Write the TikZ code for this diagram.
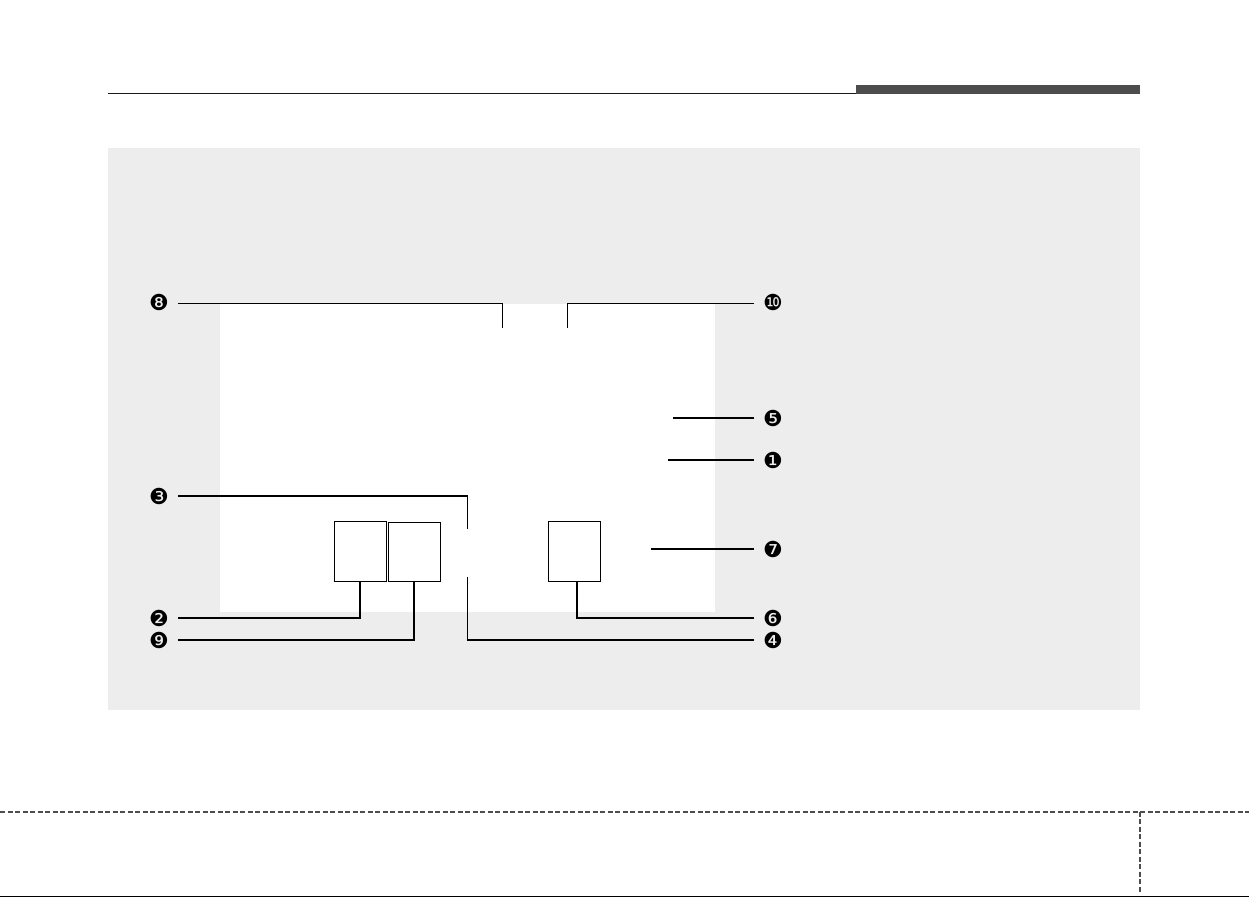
\documentclass[tikz,border=0pt]{standalone}
\usepackage{fontspec}
\newfontfamily\dvfont{DejaVu Sans}
\definecolor{panelgray}{HTML}{EDEDED}
\definecolor{bargray}{HTML}{4D4D4D}
\tikzset{
  num/.style={inner sep=0pt, minimum width=38pt, minimum height=16pt, font=\dvfont\fontsize{22}{22}\selectfont},
  lead/.style={line width=1.2pt, black},
  smallbox/.style={draw=black, line width=1pt, inner sep=0pt, minimum width=52pt, minimum height=60pt},
  cutline/.style={draw=bargray, line width=2pt, dash pattern=on 5pt off 2.5pt}
}
\begin{document}
\begin{tikzpicture}[x=1pt,y=-1pt]
\useasboundingbox (0,0) rectangle (1249,897);
% header
\draw[line width=1.3pt, black!90] (108,93.3) -- (856,93.3);
\fill[bargray] (856,85) rectangle (1140,94);
% panel
\fill[panelgray] (108,148) rectangle (1140,710);
\fill[white] (220,304) rectangle (715,612);
% boxes
\node[smallbox] (boxA) at (360,551) {};
\node[smallbox, minimum height=59pt] (boxB) at (414,551.5) {};
\node[smallbox] (boxC) at (574,551) {};
% numbers
\node[num] (n8) at (159,302.5) {❽};
\node[num] (n3) at (159,496) {❸};
\node[num] (n2) at (159,618) {❷};
\node[num] (n9) at (159,640) {❾};
\node[num] (n10) at (773,302.5) {❿};
\node[num] (n5) at (773,418) {❺};
\node[num] (n1) at (773,460) {❶};
\node[num] (n7) at (773,549) {❼};
\node[num] (n6) at (773,618) {❻};
\node[num] (n4) at (773,640) {❹};
% free ends
\coordinate (c8) at (502.3,327.5);
\coordinate (c10) at (567.3,327.5);
\coordinate (c3) at (467.3,528.5);
\coordinate (c4) at (467.3,577.3);
\coordinate (c5) at (673.3,418);
\coordinate (c1) at (668.3,460);
\coordinate (c7) at (651,549);
% leaders
\draw[lead] (n8.east |- 0,303.3) -| (c8);
\draw[lead] (c10) |- (n10.west |- 0,303.3);
\draw[lead] (c5) -- (n5.west);
\draw[lead] (c1) -- (n1.west);
\draw[lead] (n3.east) -| (c3);
\draw[lead] (c7) -- (n7.west);
\draw[lead] (n2.east) -| (boxA.south);
\draw[lead] (n9.east) -| (boxB.south);
\draw[lead] ([xshift=3pt]boxC.south) |- (n6.west);
\draw[lead] (c4) |- (n4.west);
% footer cut lines
\draw[cutline] (0,811.7) -- (1249,811.7);
\draw[cutline] (1140,811.7) -- (1140,893);
\draw[line width=1pt, black] (0,896.5) -- (1249,896.5);
\end{tikzpicture}
\end{document}
